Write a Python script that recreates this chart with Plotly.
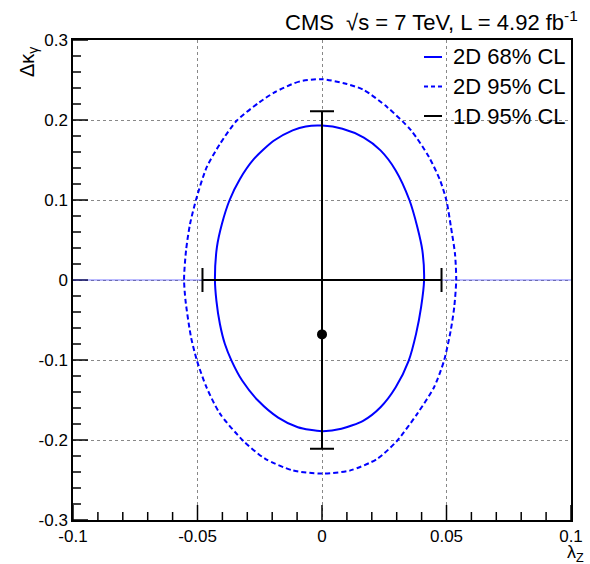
import plotly.graph_objects as go

# 68% CL contour (lambda_Z, delta kappa_gamma)
c68_x = [0, -0.0065, -0.0118, -0.0194, -0.0274, -0.033, -0.0371, -0.0402, -0.0422, -0.043,
         -0.0424, -0.041, -0.039, -0.0363, -0.032, -0.0256, -0.0176, -0.0097, 0,
         0.0078, 0.0165, 0.0235, 0.0296, 0.0348, 0.0378, 0.0398, 0.041,
         0.0403, 0.0383, 0.0351, 0.0296, 0.0235, 0.0168, 0.0082, 0]
c68_y = [0.193, 0.192, 0.187, 0.174, 0.151, 0.126, 0.100, 0.070, 0.041, 0.001,
         -0.026, -0.055, -0.080, -0.101, -0.126, -0.151, -0.172, -0.184, -0.189,
         -0.186, -0.176, -0.159, -0.134, -0.101, -0.067, -0.034, 0.0,
         0.037, 0.066, 0.100, 0.137, 0.162, 0.178, 0.189, 0.193]

# 95% CL contour
c95_x = [0, -0.0092, -0.0188, -0.0252, -0.0343, -0.041, -0.0463, -0.0503, -0.053, -0.0546, -0.0554,
         -0.0548, -0.0526, -0.0502, -0.0464, -0.041, -0.0315, -0.0228, -0.0118, 0,
         0.0114, 0.0222, 0.030, 0.0383, 0.045, 0.049, 0.0517, 0.0531, 0.0539,
         0.0534, 0.0518, 0.0500, 0.0475, 0.0430, 0.0358, 0.0262, 0.0168, 0.0100, 0]
c95_y = [0.251, 0.248, 0.235, 0.222, 0.199, 0.170, 0.141, 0.1035, 0.070, 0.037, 0.001,
         -0.026, -0.0715, -0.101, -0.134, -0.167, -0.2015, -0.2235, -0.238, -0.242,
         -0.238, -0.2235, -0.2015, -0.167, -0.134, -0.101, -0.063, -0.034, 0.0,
         0.033, 0.066, 0.099, 0.124, 0.1535, 0.187, 0.216, 0.2376, 0.245, 0.251]

# 1D 95% CL intervals (drawn as error bars about the origin)
oned_x = [0.0]
oned_y = [0.0]
oned_ex = [0.048]
oned_ey_plus = [0.211]
oned_ey_minus = [0.211]

# best fit point
best_x = [0.0]
best_y = [-0.068]

# horizontal reference line
ref_x = [-0.1, 0.1]
ref_y = [0.0, 0.0]

x_tickvals = [-0.1, -0.05, 0, 0.05, 0.1]
x_ticktext = ["-0.1", "-0.05", "0", "0.05", "0.1"]
y_tickvals = [-0.3, -0.2, -0.1, 0, 0.1, 0.2, 0.3]
y_ticktext = ["-0.3", "-0.2", "-0.1", "0", "0.1", "0.2", "0.3"]
x_minor = [round(-0.1 + 0.01 * i, 3) for i in range(21)]
y_minor = [round(-0.3 + 0.02 * i, 3) for i in range(31)]

legend_labels = ["2D 68% CL", "2D 95% CL", "1D 95% CL"]
legend_colors = ["#0000ff", "#0000ff", "black"]
legend_dash = ["solid", "4px,3px", "solid"]

FONT = "Liberation Sans, Arial, Helvetica, sans-serif"
BLUE = "#0000ff"

XR = [-0.1, 0.1]
YR = [-0.3, 0.3]
L, R, T, B = 73, 19, 40, 44
W, H = 590, 564
pw, ph = W - L - R, H - T - B

fig = go.Figure()

# tick marks inside the frame, built from the tick value lists
MAJ, MIN = 15, 8
tx, ty = [], []
for v in x_minor:
    ln = MAJ if any(abs(v - t) < 1e-9 for t in x_tickvals) else MIN
    tx += [v, v, None]
    ty += [YR[0], YR[0] + ln * (YR[1] - YR[0]) / ph, None]
for v in y_minor:
    ln = MAJ if any(abs(v - t) < 1e-9 for t in y_tickvals) else MIN
    tx += [XR[0], XR[0] + ln * (XR[1] - XR[0]) / pw, None]
    ty += [v, v, None]
fig.add_trace(go.Scatter(x=tx, y=ty, mode="lines", line=dict(color="black", width=1.5),
                         showlegend=False, hoverinfo="skip", cliponaxis=False))

fig.add_trace(go.Scatter(x=ref_x, y=ref_y, mode="lines",
                         line=dict(color="rgba(60,60,255,0.7)", width=1),
                         showlegend=False, hoverinfo="skip"))

fig.add_trace(go.Scatter(x=c68_x, y=c68_y, mode="lines", name=legend_labels[0],
                         line=dict(color=BLUE, width=2, shape="spline", smoothing=0.7),
                         showlegend=False))
fig.add_trace(go.Scatter(x=c95_x, y=c95_y, mode="lines", name=legend_labels[1],
                         line=dict(color=BLUE, width=2, dash="5px,3px", shape="spline", smoothing=0.7),
                         showlegend=False))

fig.add_trace(go.Scatter(x=oned_x, y=oned_y, mode="markers", name=legend_labels[2],
                         marker=dict(size=1, color="rgba(0,0,0,0)"),
                         error_x=dict(type="data", array=oned_ex, symmetric=True,
                                      color="black", thickness=2, width=12),
                         error_y=dict(type="data", array=oned_ey_plus, arrayminus=oned_ey_minus,
                                      symmetric=False, color="black", thickness=2, width=12),
                         showlegend=False, hoverinfo="skip"))

fig.add_trace(go.Scatter(x=best_x, y=best_y, mode="markers",
                         marker=dict(size=10, color="black"), showlegend=False))

axis_common = dict(
    showline=True, linecolor="black", linewidth=1.5, mirror=True,
    ticks="", showgrid=True, gridcolor="#888888", griddash="dot", gridwidth=1,
    zeroline=False, automargin=False,
    tickfont=dict(family=FONT, size=17, color="black"),
)

fig.update_xaxes(range=XR, tickmode="array", tickvals=x_tickvals, ticktext=x_ticktext,
                 **axis_common)
fig.update_yaxes(range=YR, tickmode="array", tickvals=y_tickvals, ticktext=y_ticktext,
                 **axis_common)

def px(xp):
    return (xp - L) / pw
def py(yp):
    return (H - B - yp) / ph

shapes = []
annotations = []
row_y = [57, 86.5, 116]
for lab, col, dsh, yy in zip(legend_labels, legend_colors, legend_dash, row_y):
    shapes.append(dict(type="line", xref="paper", yref="paper",
                       x0=px(424), x1=px(442), y0=py(yy), y1=py(yy),
                       line=dict(color=col, width=2, dash=dsh)))
    annotations.append(dict(text=lab, xref="paper", yref="paper", x=px(451), y=py(yy),
                            xanchor="left", yanchor="middle", showarrow=False,
                            font=dict(family=FONT, size=22, color="black")))

annotations += [
    dict(text="CMS  √s = 7 TeV, L = 4.92 fb<sup>-1</sup>", xref="paper", yref="paper",
         x=px(580), y=py(21), xanchor="right", yanchor="middle", showarrow=False,
         font=dict(family=FONT, size=22, color="black")),
    dict(text="Δκ<sub>γ</sub>", xref="paper", yref="paper", x=px(29), y=py(62),
         xanchor="center", yanchor="middle", textangle=-90, showarrow=False,
         font=dict(family=FONT, size=20, color="black")),
    dict(text="λ<sub>Z</sub>", xref="paper", yref="paper", x=px(575), y=py(553),
         xanchor="center", yanchor="middle", showarrow=False,
         font=dict(family=FONT, size=18, color="black")),
]

fig.update_layout(
    template="none",
    width=W, height=H,
    margin=dict(l=L, r=R, t=T, b=B),
    plot_bgcolor="white", paper_bgcolor="white",
    font=dict(family=FONT, color="black"),
    showlegend=False,
    shapes=shapes,
    annotations=annotations,
)

fig.write_html("out.html", config={"displayModeBar": False},
               post_script="document.body.style.margin='0';")
